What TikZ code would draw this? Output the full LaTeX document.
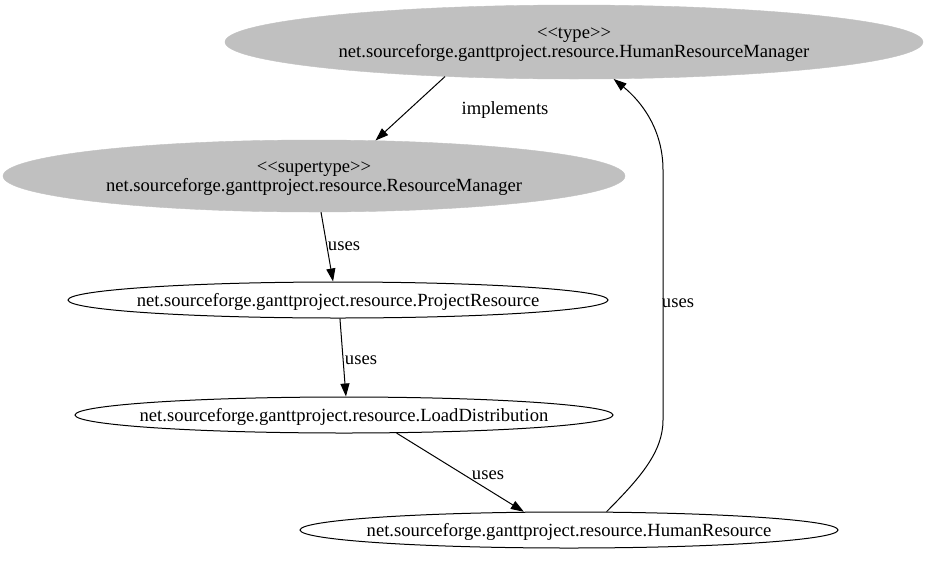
\documentclass[tikz,border=0pt]{standalone}
\usepackage{fontspec}
\setmainfont{Liberation Serif}
\usetikzlibrary{shapes.geometric,arrows.meta}
\definecolor{nodegray}{HTML}{C0C0C0}
\newcommand{\twoline}[2]{\makebox[0pt]{\rule{0pt}{27pt}\begin{tabular}{@{}c@{}}#1\\#2\end{tabular}}}
\newcommand{\oneline}[1]{\makebox[0pt]{\rule{0pt}{17pt}#1}}
\tikzset{
  gfont/.style={font=\fontsize{18.6}{18}\selectfont},
  grayell/.style={ellipse, inner sep=0pt, fill=nodegray, draw=nodegray, gfont},
  whiteell/.style={ellipse, inner sep=0pt, draw=black, line width=1pt, gfont},
  edge/.style={draw=black, line width=1pt, -{Triangle[length=13pt,width=9pt]}},
  elabel/.style={inner sep=0pt, gfont}
}
\begin{document}
\begin{tikzpicture}[x=1pt,y=-1pt]
\path[use as bounding box] (0,0) rectangle (928,560);
\node[grayell, minimum width=698pt, minimum height=74pt] (A) at (574,42)
  {\twoline{{<}{<}type{>}{>}}{net.sourceforge.ganttproject.resource.HumanResourceManager}};
\node[grayell, minimum width=622pt, minimum height=72pt] (B) at (314,176)
  {\twoline{{<}{<}supertype{>}{>}}{net.sourceforge.ganttproject.resource.ResourceManager}};
\node[whiteell, minimum width=540pt, minimum height=36pt] (C) at (338,300)
  {\oneline{net.sourceforge.ganttproject.resource.ProjectResource}};
\node[whiteell, minimum width=538pt, minimum height=36pt] (D) at (344,415)
  {\oneline{net.sourceforge.ganttproject.resource.LoadDistribution}};
\node[whiteell, minimum width=538pt, minimum height=36pt] (E) at (569,530)
  {\oneline{net.sourceforge.ganttproject.resource.HumanResource}};

\draw[edge] (A.195) -- (B.30);
\draw[edge] (B.-79) -- (C.105);
\draw[edge] (C.-84) -- (D.84);
\draw[edge] (D.-19.5) -- (E.158.5);
\draw[edge] (E.26) .. controls (640,478) and (663,452) .. (663,420)
  -- (663,170) .. controls (663,130) and (642,102) .. (A.-43);

\node[elabel] (L1) at (505,110) {implements};
\node[elabel] (L2) at (344,246) {uses};
\node[elabel] (L3) at (361,360) {uses};
\node[elabel] (L4) at (488,475) {uses};
\node[elabel] (L5) at (678,303) {uses};
\end{tikzpicture}
\end{document}
